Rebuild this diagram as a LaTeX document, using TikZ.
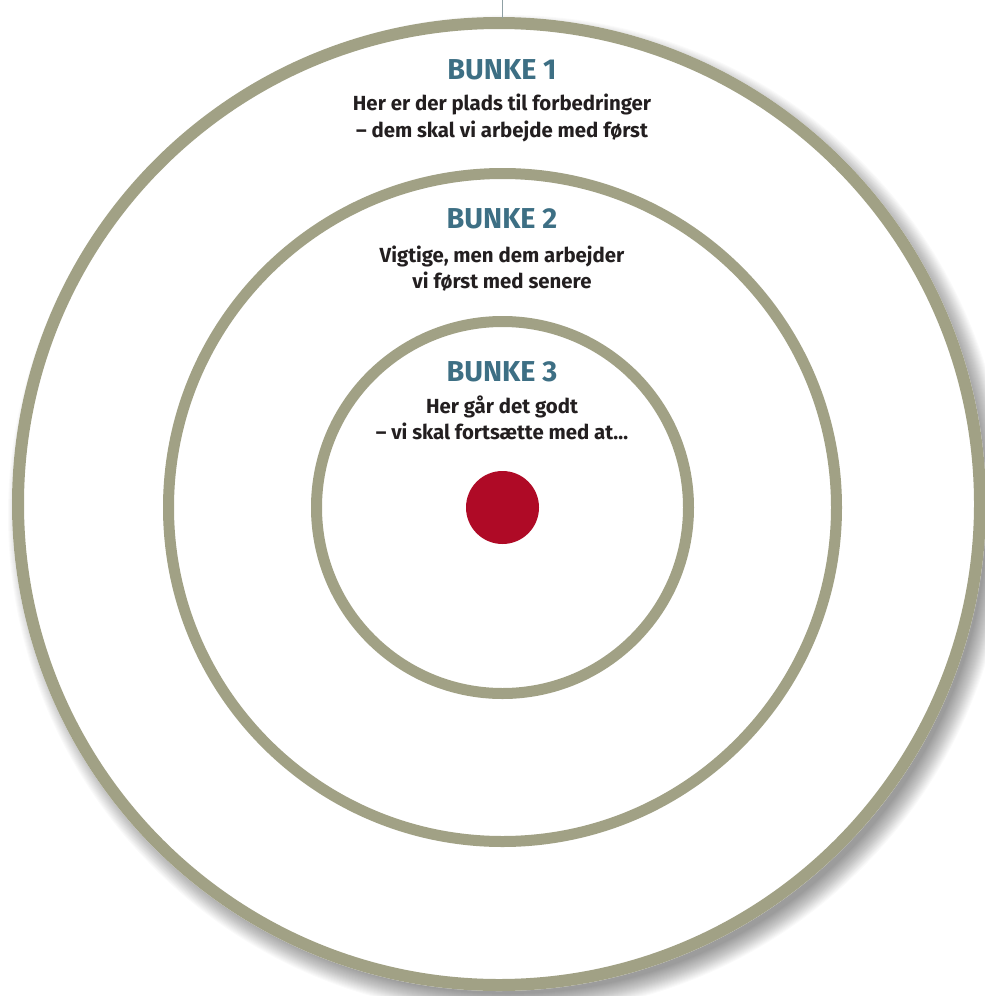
\documentclass[tikz,border=0pt]{standalone}
\usepackage{fontspec}
\setmainfont{Fira Sans}
\usetikzlibrary{calc}
\definecolor{ringc}{HTML}{A1A185}
\definecolor{titlec}{HTML}{3D6F84}
\definecolor{dotc}{HTML}{AF0A26}
\definecolor{bodyc}{HTML}{231F20}
\definecolor{tickc}{HTML}{8FA0A4}
\tikzset{
  ring/.style={draw=ringc, line width=12pt},
  ringthin/.style={draw=ringc, line width=11pt},
  title/.style={anchor=base, inner sep=0pt, text=titlec, font=\fontsize{28.8}{31}\selectfont\bfseries},
  body/.style={anchor=base, inner sep=0pt, text=bodyc, font=\fontsize{20.4}{23}\selectfont\bfseries},
}
\begin{document}
\begin{tikzpicture}[x=1pt,y=-1pt]
\useasboundingbox (0,0) rectangle (985,996);
\fill[white] (0,0) rectangle (985,996);
\coordinate (co) at (499,504);
\coordinate (c) at (502.5,507.5);
% soft shadow
\foreach \k in {0,...,21}{
  \fill[black, opacity=0.02] ($(co)+(9,11)$) circle (500-\k);
}
\fill[white] (co) circle (487);
\draw[ring] (co) circle (481);
\draw[ringthin] (c) circle (334);
\draw[ringthin] (c) circle (186);
\fill[dotc] (c) circle (36.5);
\coordinate (tk) at (502,0);
\coordinate (tkb) at (502,18);
\draw[tickc, line width=0.8pt] (tk) -- (tkb);
% texts
\node[title] (b1) at (502,79) {BUNKE 1};
\node[body] (b1a) at (502,110) {Her er der plads til forbedringer};
\node[body] (b1b) at (502,137) {– dem skal vi arbejde med først};
\node[title] (b2) at (502,228) {BUNKE 2};
\node[body] (b2a) at (502,262) {Vigtige, men dem arbejder};
\node[body] (b2b) at (502,288) {vi først med senere};
\node[title] (b3) at (502,381) {BUNKE 3};
\node[body] (b3a) at (502,413) {Her går det godt};
\node[body] (b3b) at (502,439) {– vi skal fortsætte med at…};
\end{tikzpicture}
\end{document}
